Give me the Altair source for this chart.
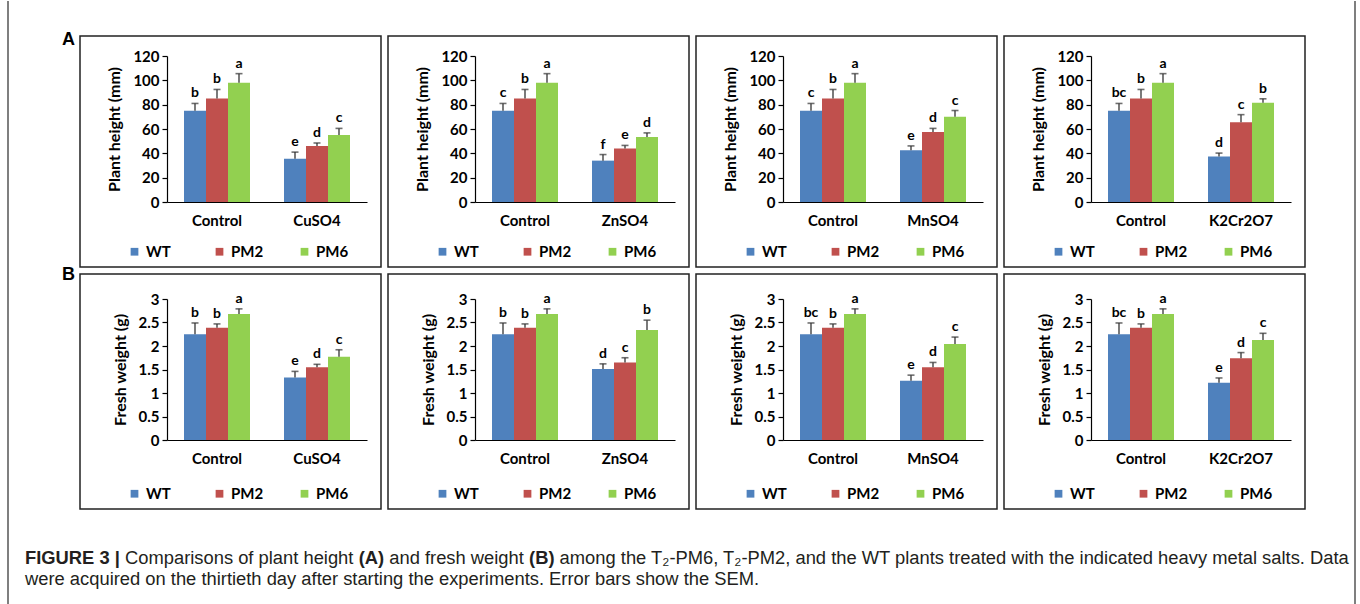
import altair as alt
import pandas as pd

# ---------------- data ----------------
groups = ["WT", "PM2", "PM6"]
colors = ["#4F81BD", "#C0504D", "#92D050"]
treatments = ["CuSO4", "ZnSO4", "MnSO4", "K2Cr2O7"]

# Plant height (mm)
height_control = [75, 85, 98]
height_control_err = [6, 7.5, 7.5]
height_cuso4 = [35.5, 46, 55]
height_cuso4_err = [5.5, 2.5, 5.5]
height_znso4 = [34, 44, 53.5]
height_znso4_err = [5, 2.5, 3.3]
height_mnso4 = [42.5, 57.5, 70]
height_mnso4_err = [3.6, 3, 5.2]
height_k2cr2o7 = [37.5, 65.5, 81.5]
height_k2cr2o7_err = [2.7, 6.3, 3.3]

height_control_letters = [["b", "b", "a"], ["c", "b", "a"], ["c", "b", "a"], ["bc", "b", "a"]]
height_treated_letters = [["e", "d", "c"], ["f", "e", "d"], ["e", "d", "c"], ["d", "c", "b"]]

# Fresh weight (g)
weight_control = [2.25, 2.39, 2.68]
weight_control_err = [0.24, 0.08, 0.11]
weight_cuso4 = [1.33, 1.55, 1.77]
weight_cuso4_err = [0.13, 0.06, 0.15]
weight_znso4 = [1.51, 1.65, 2.34]
weight_znso4_err = [0.11, 0.10, 0.21]
weight_mnso4 = [1.26, 1.55, 2.04]
weight_mnso4_err = [0.12, 0.10, 0.15]
weight_k2cr2o7 = [1.22, 1.74, 2.13]
weight_k2cr2o7_err = [0.10, 0.12, 0.14]

weight_control_letters = [["b", "b", "a"], ["b", "b", "a"], ["bc", "b", "a"], ["bc", "b", "a"]]
weight_treated_letters = [["e", "d", "c"], ["d", "c", "b"], ["e", "d", "c"], ["e", "d", "c"]]

height_ticks = [0, 20, 40, 60, 80, 100, 120]
weight_ticks = [0, 0.5, 1, 1.5, 2, 2.5, 3]

caption_line1 = [
    ("FIGURE 3 |", True),
    ("Comparisons of plant height", False),
    ("(A)", True),
    ("and fresh weight", False),
    ("(B)", True),
    ("among the T\u2082-PM6, T\u2082-PM2, and the WT plants treated with the indicated heavy metal salts. Data", False),
]
caption_line2 = "were acquired on the thirtieth day after starting the experiments. Error bars show the SEM."

# ---------------- helpers ----------------
ONE = pd.DataFrame({"k": [0]})
FONT = "Lato"

_norm = {" ": 278, ",": 278, ".": 278, "-": 333, "(": 333, ")": 333, "|": 260, "\u2082": 380}
for c, w in zip("abcdefghijklmnopqrstuvwxyz",
                [556, 556, 500, 556, 556, 278, 556, 556, 222, 222, 500, 222, 833, 556, 556, 556, 556, 333, 500, 278, 556, 500, 722, 500, 500, 500]):
    _norm[c] = w
for c, w in zip("ABCDEFGHIJKLMNOPQRSTUVWXYZ",
                [667, 667, 722, 722, 667, 611, 778, 722, 278, 500, 667, 556, 833, 722, 778, 667, 778, 722, 667, 611, 722, 667, 944, 667, 667, 611]):
    _norm[c] = w
_bold = dict(_norm)
_bold.update({"A": 722, "B": 722, "|": 280, "(": 333, ")": 333})


def text_em(s, bold=False):
    t = _bold if bold else _norm
    return sum(t.get(ch, 556) for ch in s) / 1000.0


def label(txt, x, y, size, weight="normal", font="Liberation Sans", color="#231F20"):
    return alt.Chart(ONE).mark_text(
        text=txt, align="left", baseline="middle", fontSize=size,
        fontWeight=weight, font=font, color=color,
    ).encode(x=alt.value(x), y=alt.value(y))


def panel(trt_name, ctrl, ctrl_err, ctrl_let, trt, trt_err, trt_let,
          ytitle, ymax, ticks, height, box_top, box_bottom, legend_y, extra):
    df = pd.DataFrame({
        "treatment": ["Control"] * 3 + [trt_name] * 3,
        "group": groups * 2,
        "value": ctrl + trt,
        "err": ctrl_err + trt_err,
        "letter": ctrl_let + trt_let,
    })
    df["top"] = df["value"] + df["err"]
    order = ["Control", trt_name]
    x = alt.X("treatment:N", sort=order,
              scale=alt.Scale(domain=order, paddingInner=0.34, paddingOuter=0.17),
              axis=alt.Axis(title=None, labelAngle=0, ticks=False, domainColor="black",
                            domainWidth=1.2, labelFont=FONT, labelFontWeight="bold",
                            labelFontSize=15, labelColor="black", labelPadding=11))
    xo = alt.XOffset("group:N", sort=groups,
                     scale=alt.Scale(domain=groups, paddingInner=0, paddingOuter=0))
    yscale = alt.Scale(domain=[0, ymax], nice=False, zero=True)
    yaxis = alt.Axis(title=ytitle, values=ticks, tickCount=len(ticks),
                     labelExpr="'' + datum.value", labelOverlap=False, grid=False,
                     domainColor="black", domainWidth=1.2, tickColor="black",
                     tickSize=5, tickWidth=1.2, labelFont=FONT,
                     labelFontWeight="bold", labelFontSize=15, labelColor="black",
                     labelPadding=3, titleFont=FONT, titleFontWeight="bold",
                     titleFontSize=16, titleColor="black", titlePadding=10)

    def Y(field):
        return alt.Y(field, type="quantitative", scale=yscale, axis=yaxis)

    base = alt.Chart(df)
    bars = base.mark_bar().encode(
        x=x, xOffset=xo, y=Y("value"),
        color=alt.Color("group:N", sort=groups,
                        scale=alt.Scale(domain=groups, range=colors),
                        legend=alt.Legend(orient="none", legendX=-40, legendY=legend_y,
                                          direction="horizontal", title=None,
                                          symbolType="square", symbolSize=60,
                                          symbolStrokeWidth=0, labelFont=FONT,
                                          labelFontWeight="bold", labelFontSize=15,
                                          labelColor="black", columnPadding=33,
                                          gridAlign="all", labelOffset=4)),
    )
    rules = base.mark_rule(color="#333333", strokeWidth=1.3).encode(
        x=x, xOffset=xo, y=Y("value"), y2="top:Q")
    caps = base.mark_tick(color="#333333", thickness=1.6, size=7, orient="horizontal").encode(
        x=x, xOffset=xo, y=Y("top"))
    letters = base.mark_text(baseline="bottom", dy=-3, fontSize=14, fontWeight="bold",
                             font=FONT, color="black").encode(
        x=x, xOffset=xo, y=Y("top"), text="letter:N")
    box = alt.Chart(ONE).mark_rect(fill="white", fillOpacity=0, stroke="#222222",
                                   strokeWidth=1.5).encode(
        x=alt.value(-87), x2=alt.value(214), y=alt.value(box_top), y2=alt.value(box_bottom))
    return alt.layer(box, bars, rules, caps, letters, *extra).properties(width=200, height=height)


# ---------------- annotations ----------------
# canvas extent and outer frame (in panel A1 coordinates, plot origin at 167,55)
extent = alt.Chart(ONE).mark_rect(opacity=0).encode(
    x=alt.value(-167), x2=alt.value(1193), y=alt.value(-55), y2=alt.value(549))
frame_left = alt.Chart(ONE).mark_rule(color="#555555", strokeWidth=1.5).encode(
    x=alt.value(-159), y=alt.value(-55), y2=alt.value(549))
frame_right = alt.Chart(ONE).mark_rule(color="#555555", strokeWidth=1.5).encode(
    x=alt.value(1188), y=alt.value(-55), y2=alt.value(549))
label_a = label("A", -105, -16, 18, weight="bold", font="Liberation Sans", color="black")
a_extra = [extent, frame_left, frame_right, label_a]

label_b = label("B", -105, -24, 18, weight="bold", font="Liberation Sans", color="black")
# caption (in panel B1 coordinates, plot origin at 167,298)
space_em = 0.278
total_em = sum(text_em(s, b) for s, b in caption_line1) + space_em * (len(caption_line1) - 1)
cap_size = 1325.0 / total_em
cap_layers = []
cx = -142.0
for s, b in caption_line1:
    cap_layers.append(label(s, cx, 259, cap_size, weight="bold" if b else "normal"))
    cx += (text_em(s, b) + space_em) * cap_size
cap_layers.append(label(caption_line2, -142, 280, cap_size))
b_extra = [label_b] + cap_layers

# ---------------- panels ----------------
height_trt = [height_cuso4, height_znso4, height_mnso4, height_k2cr2o7]
height_trt_err = [height_cuso4_err, height_znso4_err, height_mnso4_err, height_k2cr2o7_err]
weight_trt = [weight_cuso4, weight_znso4, weight_mnso4, weight_k2cr2o7]
weight_trt_err = [weight_cuso4_err, weight_znso4_err, weight_mnso4_err, weight_k2cr2o7_err]

panels = []
for i, t in enumerate(treatments):
    panels.append(panel(t, height_control, height_control_err, height_control_letters[i],
                        height_trt[i], height_trt_err[i], height_treated_letters[i],
                        "Plant height (mm)", 120, height_ticks, 146, -20, 211, 188,
                        a_extra if i == 0 else []))
for i, t in enumerate(treatments):
    panels.append(panel(t, weight_control, weight_control_err, weight_control_letters[i],
                        weight_trt[i], weight_trt_err[i], weight_treated_letters[i],
                        "Fresh weight (g)", 3, weight_ticks, 141, -25, 210, 187,
                        b_extra if i == 0 else []))

chart = alt.concat(
    *panels, columns=4, spacing=alt.RowColnumber(row=97, column=108), bounds="flush"
).resolve_scale(
    x="independent", y="independent", color="independent", xOffset="independent"
).resolve_legend(color="independent").properties(
    padding=0, background="white"
).configure_view(strokeWidth=0)

chart.save("out.html", embed_options={"renderer": "svg", "actions": False})
